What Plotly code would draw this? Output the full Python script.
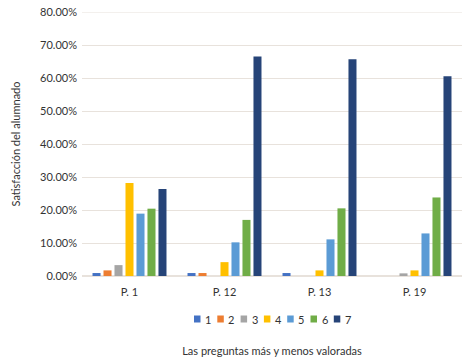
import plotly.graph_objects as go

categories = ["P. 1", "P. 12", "P. 13", "P. 19"]
series_names = ["1", "2", "3", "4", "5", "6", "7"]
values_1 = [0.009, 0.009, 0.009, 0.0]
values_2 = [0.017, 0.009, 0.0, 0.0]
values_3 = [0.033, 0.0, 0.0, 0.008]
values_4 = [0.282, 0.042, 0.017, 0.017]
values_5 = [0.189, 0.102, 0.111, 0.129]
values_6 = [0.204, 0.170, 0.205, 0.238]
values_7 = [0.264, 0.665, 0.657, 0.605]
colors = ["#4472C4", "#ED7D31", "#A5A5A5", "#FFC000", "#5B9BD5", "#70AD47", "#264478"]
y_max = 0.8

all_values = [values_1, values_2, values_3, values_4, values_5, values_6, values_7]

W, H = 472, 359
ML, MR, MT, MB = 82, 10, 12, 83
GRID = "#E8E2DC"

fig = go.Figure()
for name, vals, col in zip(series_names, all_values, colors):
    fig.add_trace(go.Bar(name=name, x=categories, y=vals, marker_color=col,
                         marker_line_width=0, showlegend=False))

# top gridline at the axis maximum
fig.add_shape(type="line", xref="paper", yref="y", x0=0, x1=1, y0=y_max, y1=y_max,
              line=dict(color=GRID, width=1), layer="below")

# compact manual legend (paper coordinates), positions given in page pixels
pw, ph = W - ML - MR, H - MT - MB
def px_to_paper_x(px):
    return (px - ML) / pw
def px_to_paper_y(py):
    return (H - MB - py) / ph

legend_x0 = 194
legend_step = 23.3
legend_y = 319
for i, (name, col) in enumerate(zip(series_names, colors)):
    x0 = legend_x0 + i * legend_step
    fig.add_shape(type="rect", xref="paper", yref="paper",
                  x0=px_to_paper_x(x0), x1=px_to_paper_x(x0 + 6.5),
                  y0=px_to_paper_y(legend_y + 3.5), y1=px_to_paper_y(legend_y - 3.5),
                  fillcolor=col, line_width=0)
    fig.add_annotation(xref="paper", yref="paper", x=px_to_paper_x(x0 + 9),
                       y=px_to_paper_y(legend_y), text=name, showarrow=False,
                       xanchor="left", yanchor="middle",
                       font=dict(size=11, color="#333333"))

font_family = "Lato, Open Sans, sans-serif"
fig.update_layout(
    width=W, height=H,
    margin=dict(l=ML, r=MR, t=MT, b=MB, autoexpand=False),
    paper_bgcolor="white", plot_bgcolor="white",
    barmode="group", bargap=0.19, bargroupgap=0.27,
    font=dict(family=font_family, size=11, color="#333333"),
    showlegend=False,
    xaxis=dict(showgrid=False, showline=False, ticks="", tickfont=dict(size=11),
               ticklabelstandoff=8,
               title=dict(text="Las preguntas más y menos valoradas", font=dict(size=11), standoff=50)),
    yaxis=dict(range=[0, y_max], dtick=0.1, tickformat=".2%", showgrid=True,
               gridcolor=GRID, gridwidth=1, zeroline=True, zerolinecolor=GRID,
               showline=False, ticks="", tickfont=dict(size=11), ticklabelstandoff=4,
               ticklabeloverflow="allow",
               title=dict(text="Satisfacción del alumnado", font=dict(size=11), standoff=17)),
)

fig.write_html("out.html", config={"displayModeBar": False},
               post_script="document.body.style.margin='0';")
